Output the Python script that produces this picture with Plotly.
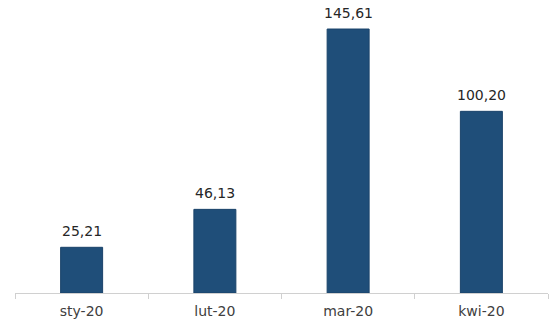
import plotly.graph_objects as go

categories = ["sty-20", "lut-20", "mar-20", "kwi-20"]
values = [25.21, 46.13, 145.61, 100.20]
labels = [f"{v:.2f}".replace(".", ",") for v in values]

fig = go.Figure()
fig.add_trace(go.Bar(
    x=categories, y=values,
    marker=dict(color="#1F4E79", line=dict(color="#1A436A", width=1)),
    width=0.315,
    hoverinfo="skip",
))
for c, v, t in zip(categories, values, labels):
    fig.add_annotation(x=c, y=v, text=t, showarrow=False, yanchor="bottom",
                       yshift=6, font=dict(family="DejaVu Sans, Verdana", size=14, color="#262626"))

fig.update_layout(
    width=559, height=325,
    margin=dict(l=15, r=11, t=10, b=32),
    paper_bgcolor="white", plot_bgcolor="white",
    showlegend=False,
    font=dict(family="DejaVu Sans, Verdana", size=14, color="#404040"),
    xaxis=dict(showline=True, linecolor="#D0D0D0", linewidth=1,
               ticks="outside", tickson="boundaries", ticklen=5, tickcolor="#D0D0D0",
               ticklabelstandoff=5, automargin=False,
               showgrid=False, tickfont=dict(size=14, color="#404040")),
    yaxis=dict(visible=False, range=[0, 156.1], showgrid=False, zeroline=False),
)
fig.write_html("out.html")
